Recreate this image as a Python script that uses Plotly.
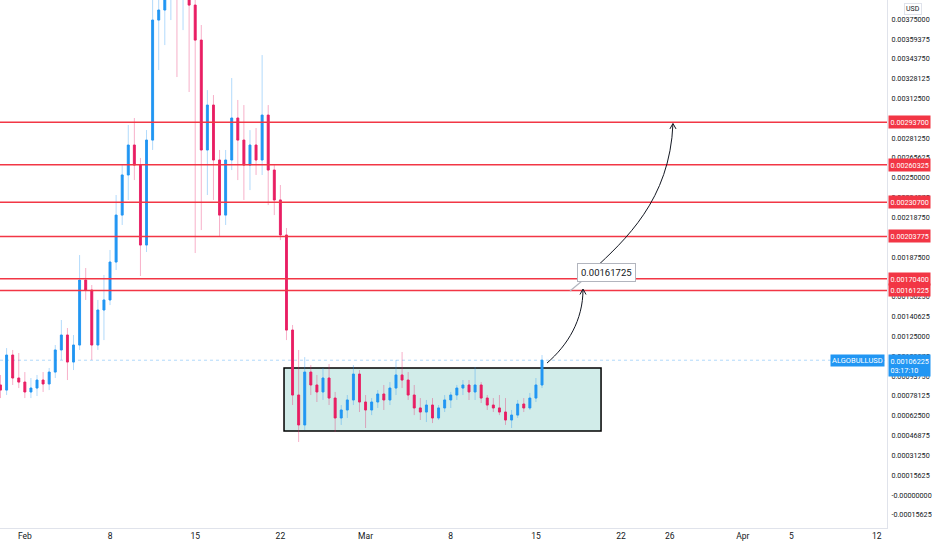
import plotly.graph_objects as go
import pandas as pd

# ---- data (12h candles) ----
times = pd.date_range("2021-01-30 00:00", periods=90, freq="12h")

opens = [0.000867, 0.000827, 0.001103, 0.000922, 0.000890, 0.000812, 0.000843, 0.000906, 0.000875, 0.000969,
         0.001143, 0.001261, 0.001048, 0.001182, 0.001694, 0.001615, 0.001182, 0.001458, 0.001537, 0.001836,
         0.002206, 0.002522, 0.002758, 0.002600, 0.001970, 0.002797, 0.003743, 0.003822, 0.004216, 0.004452,
         0.004137, 0.004295, 0.003861, 0.003585, 0.002719, 0.003073, 0.002640, 0.002206, 0.002640, 0.002971,
         0.002797, 0.002600, 0.002758, 0.002640, 0.002994, 0.002561, 0.002325, 0.002049, 0.001300, 0.000788,
         0.000552, 0.000969, 0.000867, 0.000812, 0.000922, 0.000764, 0.000607, 0.000670, 0.000749, 0.000953,
         0.000733, 0.000670, 0.000733, 0.000796, 0.000749, 0.000843, 0.000946, 0.000906, 0.000788, 0.000686,
         0.000654, 0.000709, 0.000607, 0.000686, 0.000749, 0.000788, 0.000843, 0.000867, 0.000812, 0.000867,
         0.000764, 0.000709, 0.000686, 0.000654, 0.000591, 0.000630, 0.000717, 0.000686, 0.000764, 0.000867]
highs = [0.000946, 0.001158, 0.001143, 0.001119, 0.000969, 0.000922, 0.000946, 0.000969, 0.001001, 0.001182,
         0.001379, 0.001316, 0.001261, 0.001891, 0.001789, 0.001655, 0.001537, 0.001734, 0.001931, 0.002364,
         0.002600, 0.002916, 0.002971, 0.002656, 0.002876, 0.004216, 0.004373, 0.004689, 0.004846, 0.004767,
         0.004610, 0.004531, 0.004058, 0.003704, 0.003191, 0.003152, 0.002719, 0.002719, 0.003286, 0.003113,
         0.003073, 0.002876, 0.002892, 0.003467, 0.003073, 0.002600, 0.002443, 0.002104, 0.001340, 0.001143,
         0.001087, 0.001024, 0.000946, 0.001001, 0.001032, 0.000812, 0.000709, 0.000788, 0.001024, 0.000985,
         0.000788, 0.000764, 0.000827, 0.000867, 0.000890, 0.001064, 0.001127, 0.000969, 0.000867, 0.000764,
         0.000749, 0.000764, 0.000709, 0.000788, 0.000812, 0.000867, 0.000906, 0.000906, 0.001009, 0.000890,
         0.000788, 0.000764, 0.000788, 0.000764, 0.000670, 0.000749, 0.000764, 0.000804, 0.000922, 0.001103]
lows = [0.000764, 0.000788, 0.000867, 0.000843, 0.000764, 0.000764, 0.000780, 0.000812, 0.000827, 0.000922,
        0.001064, 0.000906, 0.000985, 0.001143, 0.001537, 0.001064, 0.001143, 0.001221, 0.001497, 0.001773,
        0.002128, 0.002325, 0.002482, 0.001726, 0.001915, 0.002719, 0.003349, 0.003546, 0.003743, 0.003294,
        0.003664, 0.003176, 0.001907, 0.002088, 0.002364, 0.002325, 0.002041, 0.002128, 0.002561, 0.002482,
        0.002325, 0.002403, 0.002522, 0.002522, 0.002285, 0.002206, 0.002009, 0.001221, 0.000709, 0.000418,
        0.000512, 0.000788, 0.000733, 0.000749, 0.000709, 0.000496, 0.000552, 0.000607, 0.000709, 0.000654,
        0.000528, 0.000630, 0.000686, 0.000670, 0.000709, 0.000788, 0.000843, 0.000749, 0.000630, 0.000591,
        0.000575, 0.000567, 0.000591, 0.000654, 0.000686, 0.000749, 0.000788, 0.000749, 0.000749, 0.000725,
        0.000670, 0.000654, 0.000630, 0.000552, 0.000528, 0.000607, 0.000654, 0.000670, 0.000733, 0.000843]
closes = [0.000827, 0.001103, 0.000922, 0.000890, 0.000812, 0.000843, 0.000906, 0.000875, 0.000969, 0.001143,
          0.001261, 0.001048, 0.001182, 0.001694, 0.001615, 0.001182, 0.001458, 0.001537, 0.001836, 0.002206,
          0.002522, 0.002758, 0.002600, 0.001970, 0.002797, 0.003743, 0.003822, 0.004216, 0.004452, 0.004137,
          0.004295, 0.003861, 0.003585, 0.002719, 0.003073, 0.002640, 0.002206, 0.002640, 0.002971, 0.002797,
          0.002600, 0.002758, 0.002640, 0.002994, 0.002561, 0.002325, 0.002049, 0.001300, 0.000788, 0.000552,
          0.000969, 0.000867, 0.000812, 0.000922, 0.000764, 0.000607, 0.000670, 0.000749, 0.000953, 0.000733,
          0.000670, 0.000733, 0.000796, 0.000749, 0.000843, 0.000946, 0.000906, 0.000788, 0.000686, 0.000654,
          0.000709, 0.000607, 0.000686, 0.000749, 0.000788, 0.000843, 0.000867, 0.000812, 0.000867, 0.000764,
          0.000709, 0.000686, 0.000654, 0.000591, 0.000630, 0.000717, 0.000686, 0.000764, 0.000867, 0.00106225]

levels = [0.002937, 0.00260325, 0.002307, 0.00203775, 0.001704, 0.00161225]
level_labels = ["0.00293700", "0.00260325", "0.00230700", "0.00203775", "0.00170400", "0.00161225"]
last_price = 0.00106225
last_label = "0.00106225<br>03:17:10"
symbol = "ALGOBULLUSD"
target_label = "0.00161725"

ytick_vals = [-0.00015625 + 0.00015625 * k for k in range(26)]
ytick_text = ["-0.00000000" if abs(v) < 1e-12 else f"{v:.8f}" for v in ytick_vals]

xtick_vals = ["2021-02-01", "2021-02-08", "2021-02-15", "2021-02-22", "2021-03-01", "2021-03-08",
              "2021-03-15", "2021-03-22", "2021-03-26", "2021-04-01", "2021-04-05", "2021-04-12"]
xtick_text = ["Feb", "8", "15", "22", "Mar", "8", "15", "22", "26", "Apr", "5", "12"]

# range box drawn on chart
box_x = ["2021-02-22 07:10", "2021-03-20 08:25"]
box_y = [0.000504, 0.001001]

UP = "#2196F3"
DN = "#E91E63"
FONT = "Roboto"

fig = go.Figure()
# wicks (pale)
fig.add_trace(go.Candlestick(
    x=times, open=opens, high=highs, low=lows, close=closes,
    increasing=dict(line=dict(color="rgba(33,150,243,0.35)", width=1), fillcolor="rgba(33,150,243,0.35)"),
    decreasing=dict(line=dict(color="rgba(233,30,99,0.35)", width=1), fillcolor="rgba(233,30,99,0.35)"),
    showlegend=False, hoverinfo="skip"))
# bodies (solid)
body_hi = [max(o, c) for o, c in zip(opens, closes)]
body_lo = [min(o, c) for o, c in zip(opens, closes)]
fig.add_trace(go.Candlestick(
    x=times, open=opens, high=body_hi, low=body_lo, close=closes,
    increasing=dict(line=dict(color=UP, width=0.8), fillcolor=UP),
    decreasing=dict(line=dict(color=DN, width=0.8), fillcolor=DN),
    showlegend=False))

shapes = []
shapes.append(dict(type="rect", xref="x", yref="y", x0=box_x[0], x1=box_x[1], y0=box_y[0], y1=box_y[1],
                   fillcolor="rgba(178,223,219,0.6)", line=dict(color="#000000", width=1.5), layer="below"))
shapes.append(dict(type="line", xref="paper", yref="y", x0=0, x1=1, y0=last_price, y1=last_price,
                   line=dict(color="rgba(33,150,243,0.35)", width=1, dash="dot"), layer="below"))
for lv in levels:
    shapes.append(dict(type="line", xref="paper", yref="y", x0=0, x1=1, y0=lv, y1=lv,
                       line=dict(color="#F23645", width=1.5)))

# curved arrows (data coordinates)
arrow1 = "M 2021-03-15_21:50,0.001040 C 2021-03-17_15:10,0.001182 2021-03-18_20:50,0.001379 2021-03-18_20:50,0.001620"
head1 = "M 2021-03-18_14:50,0.001580 L 2021-03-18_20:50,0.001623 L 2021-03-19_02:50,0.001580"
arrow2 = "M 2021-03-19_16:30,0.001773 C 2021-03-22_07:40,0.002009 2021-03-26_00:15,0.002325 2021-03-26_06:15,0.002925"
head2 = "M 2021-03-26_00:15,0.002885 L 2021-03-26_06:15,0.002928 L 2021-03-26_12:15,0.002885"
for p in [arrow1, head1, arrow2, head2]:
    shapes.append(dict(type="path", xref="x", yref="y", path=p, line=dict(color="#131722", width=1)))
# label tail
shapes.append(dict(type="line", xref="x", yref="y", x0="2021-03-17 19:10", y0=0.001608,
                   x1="2021-03-18 20:00", y1=0.001690, line=dict(color="#B2B5BE", width=1.2)))

annotations = []
for lv, txt in zip(levels, level_labels):
    annotations.append(dict(xref="paper", yref="y", x=1, y=lv, xanchor="left", yanchor="middle",
                            text=txt, showarrow=False, bgcolor="#F23645", font=dict(color="white", size=7.2, family=FONT),
                            borderpad=1.5, xshift=0.5))
annotations.append(dict(xref="paper", yref="y", x=1, y=last_price, xanchor="left", yanchor="top",
                        text=last_label, showarrow=False, bgcolor="#2196F3", align="left",
                        font=dict(color="white", size=7.2, family=FONT), borderpad=1.5, xshift=0.5, yshift=6))
annotations.append(dict(xref="paper", yref="y", x=1, y=last_price, xanchor="right", yanchor="middle",
                        text=symbol, showarrow=False, bgcolor="#2196F3",
                        font=dict(color="white", size=7.5, family=FONT), borderpad=1, xshift=-2))
annotations.append(dict(xref="x", yref="y", x="2021-03-20 18:15", y=0.001757, text=target_label, showarrow=False,
                        bgcolor="white", bordercolor="#B2B5BE", borderwidth=1, borderpad=3,
                        font=dict(color="#131722", size=9.5, family=FONT)))
annotations.append(dict(xref="paper", yref="paper", x=1, y=1, xanchor="left", yanchor="top", xshift=17, yshift=-3,
                        text="USD", showarrow=False, bgcolor="white", bordercolor="#E0E3EB", borderwidth=1,
                        borderpad=1, font=dict(color="#131722", size=7, family=FONT)))

fig.update_layout(
    width=932, height=550,
    margin=dict(l=0, r=45, t=0, b=22),
    paper_bgcolor="white", plot_bgcolor="white",
    shapes=shapes, annotations=annotations,
    showlegend=False, boxgap=0.55,
    xaxis=dict(range=["2021-01-29 23:00", "2021-04-12 20:24"], rangeslider=dict(visible=False),
               tickvals=xtick_vals, ticktext=xtick_text, showgrid=False, zeroline=False, automargin=False,
               showline=True, linecolor="#E0E3EB", ticks="", tickfont=dict(size=8.5, color="#131722", family=FONT)),
    yaxis=dict(side="right", range=[-0.00026, 0.003901], tickvals=ytick_vals, ticktext=ytick_text,
               showgrid=False, zeroline=False, showline=True, linecolor="#E0E3EB", ticks="",
               ticklabelstandoff=2, automargin=False,
               tickfont=dict(size=7.2, color="#131722", family=FONT)),
)

fig.write_html("out.html", config={"displayModeBar": False},
               post_script="document.body.style.margin='0';")
